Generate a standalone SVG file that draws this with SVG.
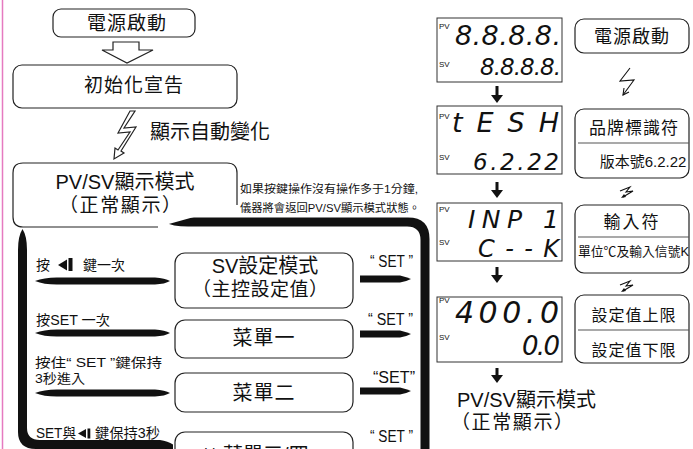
<svg xmlns="http://www.w3.org/2000/svg" width="693" height="449" viewBox="0 0 693 449">
<defs>
<style>
.t{font-family:"Liberation Sans","Noto Sans CJK TC",sans-serif;fill:#111}
.box{fill:#fff;stroke:#222;stroke-width:1.2}
.lcd{fill:#fff;stroke:#333;stroke-width:1}
.seg{font-family:"DejaVu Sans",sans-serif;font-style:italic;fill:#111}
.lbl{font-family:"Liberation Sans",sans-serif;font-size:8px;fill:#111}
.blk{fill:#111}
.ln{fill:none;stroke:#111;stroke-width:1.1;stroke-linejoin:miter}
.div{stroke:#555;stroke-width:1.2}
</style>
</defs>
<rect width="693" height="449" fill="#fff"/>
<line x1="2.5" y1="0" x2="2.5" y2="449" stroke="#e57ac0" stroke-width="1.5"/>

<g id="connectors">
  <polygon class="box" points="113,42 139,42 139,50 153,50 127,63 102,50 113,50"/>
  <polygon class="box" points="130,111 135,111 124,128 136,127 121,151 124,153 114,159 115,148 118,150 130,132 118,133"/>
  <path class="blk" d="M165,222 Q172,217.5 188,217.5 L408,217.5 Q429.5,217.5 429.5,239 L429.5,449 L420.5,449 L420.5,240 Q420.5,226.5 407,226.5 L188,226.5 Q172,226.5 165,222 Z"/>
  <path class="blk" d="M22.5,229 Q27,236 27,250 L27,428 Q27,440 40,440 L160,440 Q168,441 173,444.5 L173,449 L36,449 Q18,449 18,432 L18,250 Q18,236 22.5,229 Z"/>
  <path class="blk" d="M35,281 Q45,277 60,277.5 L155,277.5 Q165,278 170,281 Q165,284 155,284.5 L60,284.5 Q45,285 35,281 Z"/>
  <path class="blk" d="M35,333 Q45,329 60,329.5 L155,329.5 Q165,330 170,333 Q165,336 155,336.5 L60,336.5 Q45,337 35,333 Z"/>
  <path class="blk" d="M35,393 Q45,389 60,389.5 L155,389.5 Q165,390 170,393 Q165,396 155,396.5 L60,396.5 Q45,397 35,393 Z"/>
  <path class="blk" d="M360,275.5 L400,275.5 Q407,277 411,279 Q407,281 400,282.5 L360,282.5 Z"/>
  <path class="blk" d="M360,330.5 L400,330.5 Q407,332 411,334 Q407,336 400,337.5 L360,337.5 Z"/>
  <path class="blk" d="M360,387.5 L400,387.5 Q407,389 411,391 Q407,393 400,394.5 L360,394.5 Z"/>
  <g class="blk">
    <rect x="495.5" y="86" width="3" height="10"/><polygon points="491,95 503,95 497,103"/>
    <rect x="495.5" y="182" width="3" height="9"/><polygon points="491,190 503,190 497,198"/>
    <rect x="495.5" y="267" width="3" height="9"/><polygon points="491,275 503,275 497,283"/>
    <rect x="495.5" y="368" width="3" height="8"/><polygon points="491,375 503,375 497,383"/>
  </g>
  <polyline class="ln" points="630,68 620,81 634,80 623,95"/>
  <polyline class="ln" points="629,92 623,95 624,88"/>
  <polyline class="ln" points="620,191 630,187 626,192 633,191 623,197"/>
  <polygon class="blk" points="621,198 624,194 626,197"/>
  <polyline class="ln" points="620,285 630,281 626,286 633,285 623,291"/>
  <polygon class="blk" points="621,292 624,288 626,291"/>
</g>

<g id="power-left">
  <rect class="box" x="53" y="9" width="142" height="28" rx="8"/>
  <text class="t" x="127" y="30" font-size="19" text-anchor="middle" letter-spacing="1">電源啟動</text>
</g>
<g id="init">
  <rect class="box" x="13" y="65" width="224" height="43" rx="9"/>
  <text class="t" x="134" y="92" font-size="19" text-anchor="middle" letter-spacing="1">初始化宣告</text>
</g>
<g id="auto-label">
  <text class="t" x="150" y="139" font-size="20">顯示自動變化</text>
</g>
<g id="pvsv-left">
  <path class="box" fill="none" d="M237,205 L237,173 Q237,163 227,163 L23,163 Q13,163 13,173 L13,217 Q13,227 23,227 L158,227"/>
  <text class="t" x="125" y="189" font-size="20" text-anchor="middle">PV/SV顯示模式</text>
  <text class="t" x="120" y="212" font-size="19" text-anchor="middle" textLength="122">（正常顯示）</text>
</g>
<g id="note">
  <text class="t" x="240" y="193" font-size="11" textLength="178" lengthAdjust="spacingAndGlyphs">如果按鍵操作沒有操作多于1分鐘,</text>
  <text class="t" x="240" y="212" font-size="11" textLength="180" lengthAdjust="spacingAndGlyphs">儀器將會返回PV/SV顯示模式狀態。</text>
</g>

<g id="left-labels">
  <text class="t" x="36" y="270" font-size="14">按</text>
  <polygon class="blk" points="58,265 67,259.5 67,270.5"/>
  <rect class="blk" x="68.5" y="258" width="4" height="13"/>
  <text class="t" x="83" y="270" font-size="14">鍵一次</text>
  <text class="t" x="36" y="325" font-size="14" textLength="74" lengthAdjust="spacingAndGlyphs">按SET 一次</text>
  <text class="t" x="35" y="367" font-size="13" textLength="127" lengthAdjust="spacingAndGlyphs">按住“ SET ”鍵保持</text>
  <text class="t" x="35" y="383" font-size="13" textLength="50" lengthAdjust="spacingAndGlyphs">3秒進入</text>
  <text class="t" x="36" y="438" font-size="14" textLength="40" lengthAdjust="spacingAndGlyphs">SET與</text>
  <polygon class="blk" points="78,433.5 86,429 86,438"/>
  <rect class="blk" x="87.5" y="428.5" width="2.8" height="10"/>
  <text class="t" x="95" y="438" font-size="14" textLength="65" lengthAdjust="spacingAndGlyphs">鍵保持3秒</text>
</g>

<g id="sv-set">
  <rect class="box" x="175" y="253" width="178" height="55" rx="10"/>
  <text class="t" x="265" y="273" font-size="20" text-anchor="middle">SV設定模式</text>
  <text class="t" x="260" y="296" font-size="19" text-anchor="middle" textLength="136">（主控設定值）</text>
</g>
<g id="menu1">
  <rect class="box" x="175" y="320" width="178" height="38" rx="10"/>
  <text class="t" x="264" y="345" font-size="20" text-anchor="middle" letter-spacing="1">菜單一</text>
</g>
<g id="menu2">
  <rect class="box" x="175" y="373" width="178" height="39" rx="10"/>
  <text class="t" x="264" y="400" font-size="20" text-anchor="middle" letter-spacing="1">菜單二</text>
</g>
<g id="menu34">
  <rect class="box" x="175" y="432" width="178" height="40" rx="10"/>
  <text class="t" x="202" y="462" font-size="20">** 菜單三/四</text>
</g>
<g id="set-labels">
  <text class="t" x="370" y="267" font-size="16" textLength="43" lengthAdjust="spacingAndGlyphs">“ SET ”</text>
  <text class="t" x="368" y="325" font-size="16" textLength="45" lengthAdjust="spacingAndGlyphs">“ SET ”</text>
  <text class="t" x="373" y="383" font-size="16" textLength="42" lengthAdjust="spacingAndGlyphs">“SET”</text>
  <text class="t" x="370" y="442" font-size="16" textLength="43" lengthAdjust="spacingAndGlyphs">“ SET ”</text>
</g>

<g id="lcd1">
  <rect class="lcd" x="437" y="18" width="125" height="64"/>
  <text class="lbl" x="439" y="29">PV</text>
  <text class="lbl" x="439" y="67">SV</text>
  <text class="seg" x="455" y="45" font-size="27" textLength="106">8.8.8.8.</text>
  <text class="seg" x="480" y="75" font-size="23" textLength="81">8.8.8.8.</text>
</g>
<g id="lcd2">
  <rect class="lcd" x="437" y="106" width="125" height="68"/>
  <text class="lbl" x="439" y="119">PV</text>
  <text class="lbl" x="439" y="160">SV</text>
  <text class="seg" x="452" y="132" font-size="27" textLength="107">tESH</text>
  <text class="seg" x="473" y="170" font-size="23" textLength="86">6.2.22</text>
</g>
<g id="lcd3">
  <rect class="lcd" x="437" y="203" width="125" height="58"/>
  <text class="lbl" x="439" y="212">PV</text>
  <text class="lbl" x="439" y="245">SV</text>
  <text class="seg" x="468" y="228" font-size="25" textLength="91">INP 1</text>
  <text class="seg" x="478" y="257" font-size="24" textLength="81">C--K</text>
</g>
<g id="lcd4">
  <rect class="lcd" x="437" y="297" width="125" height="65"/>
  <text class="lbl" x="439" y="303">PV</text>
  <text class="lbl" x="439" y="340">SV</text>
  <text class="seg" x="455" y="323" font-size="30" textLength="104">400.0</text>
  <text class="seg" x="522" y="355" font-size="26" textLength="38">0.0</text>
</g>
<g id="pvsv-right">
  <text class="t" x="457" y="407" font-size="20">PV/SV顯示模式</text>
  <text class="t" x="451" y="429" font-size="19" textLength="122">（正常顯示）</text>
</g>

<g id="power-right">
  <rect class="box" x="575" y="19" width="114" height="34" rx="9"/>
  <text class="t" x="632" y="43" font-size="18" text-anchor="middle" letter-spacing="1">電源啟動</text>
</g>
<g id="brand">
  <rect class="box" x="575" y="109" width="114" height="69" rx="9"/>
  <line class="div" x1="578" y1="143" x2="689" y2="143"/>
  <text class="t" x="634" y="134" font-size="17" text-anchor="middle" letter-spacing="1">品牌標識符</text>
  <text class="t" x="643" y="167" font-size="15" text-anchor="middle">版本號6.2.22</text>
</g>
<g id="input">
  <rect class="box" x="575" y="205" width="114" height="68" rx="9"/>
  <line class="div" x1="578" y1="237" x2="689" y2="237"/>
  <text class="t" x="632" y="228" font-size="17" text-anchor="middle" letter-spacing="2">輸入符</text>
  <text class="t" x="578" y="256" font-size="13" textLength="111" lengthAdjust="spacingAndGlyphs">單位℃及輸入信號K</text>
</g>
<g id="limits">
  <rect class="box" x="575" y="295" width="114" height="68" rx="9"/>
  <line class="div" x1="578" y1="330" x2="689" y2="330"/>
  <text class="t" x="634" y="321" font-size="16" text-anchor="middle" letter-spacing="1">設定值上限</text>
  <text class="t" x="634" y="356" font-size="16" text-anchor="middle" letter-spacing="1">設定值下限</text>
</g>
</svg>
